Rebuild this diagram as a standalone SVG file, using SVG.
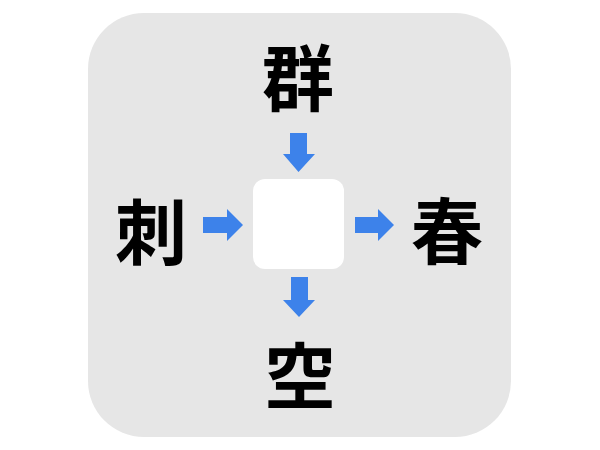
<svg xmlns="http://www.w3.org/2000/svg" width="600" height="450" viewBox="0 0 600 450">
  <style>
    .ch { font-family: "Noto Sans CJK JP", "Noto Sans CJK SC", sans-serif; font-weight: 700; font-size: 72px; fill: #000; text-anchor: middle; dominant-baseline: central; }
    .arrow { fill: #3d82ea; }
  </style>
  <rect x="0" y="0" width="600" height="450" fill="#ffffff"/>
  <rect x="88" y="13" width="423" height="424" rx="56" ry="56" fill="#e6e6e6"/>
  <g id="center">
    <rect x="253" y="179" width="91" height="90" rx="12" ry="12" fill="#ffffff"/>
  </g>
  <g id="node-top"><text class="ch" x="298" y="73">群</text></g>
  <g id="node-left"><text class="ch" x="151" y="227">刺</text></g>
  <g id="node-right"><text class="ch" x="447" y="226">春</text></g>
  <g id="node-bottom"><text class="ch" x="300" y="371">空</text></g>
  <g id="connectors">
    <polygon class="arrow" points="290,133 307,133 307,154 315,154 298.5,172 283,154 290,154"/>
    <polygon class="arrow" points="203,217 227,217 227,209 243,225 227,241 227,233 203,233"/>
    <polygon class="arrow" points="355,217 378,217 378,209 394,225 378,241 378,233 355,233"/>
    <polygon class="arrow" points="291,277 308,277 308,300 315,300 299,317 283,300 291,300"/>
  </g>
</svg>
